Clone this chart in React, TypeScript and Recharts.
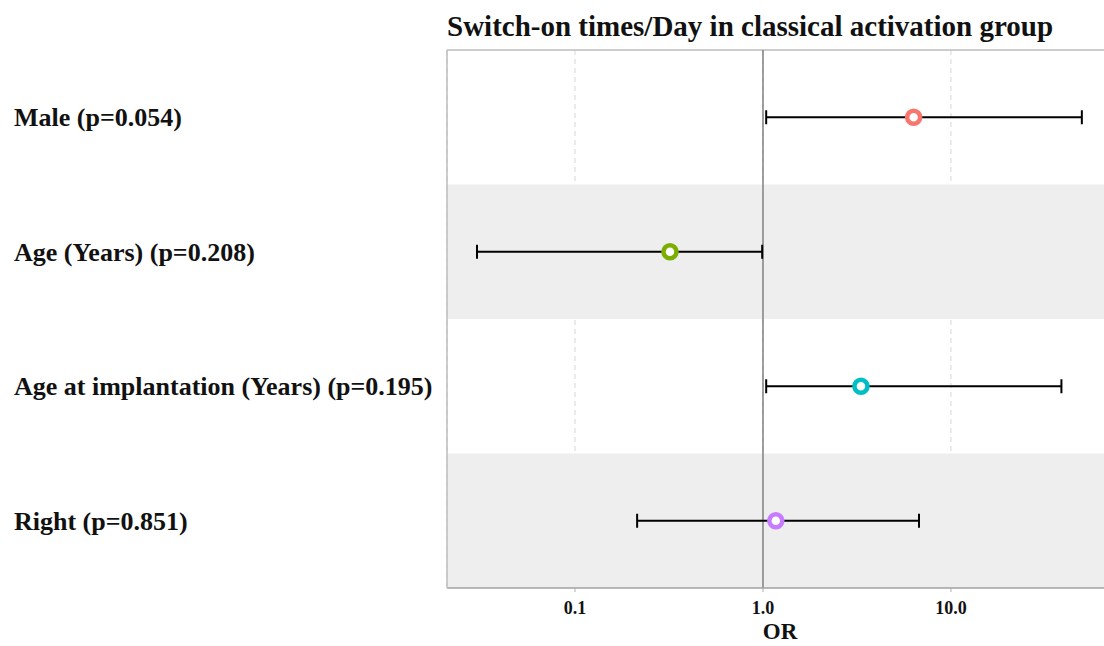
import React from "react";
import {
  ComposedChart,
  Scatter,
  XAxis,
  YAxis,
  ErrorBar,
  ReferenceArea,
  ReferenceLine,
  CartesianGrid,
} from "recharts";

const title = "Switch-on times/Day in classical activation group";
const labels = ["Male (p=0.054)", "Age (Years) (p=0.208)", "Age at implantation (Years) (p=0.195)", "Right (p=0.851)"];
const rows = [1, 2, 3, 4];
const orValues = [6.33, 0.32, 3.32, 1.17];
const lowerCI = [1.04, 0.0301, 1.04, 0.214];
const upperCI = [49.7, 0.99, 38.7, 6.76];
const colors = ["#F8766D", "#7CAE00", "#00BFC4", "#C77CFF"];
const xTicks = [0.1, 1, 10];
const xTickLabels = ["0.1", "1.0", "10.0"];

const FONT = "'Liberation Serif', 'Times New Roman', serif";

const data = rows.map((y, i) => ({
  y,
  or: orValues[i],
  err: [orValues[i] - lowerCI[i], upperCI[i] - orValues[i]],
  color: colors[i],
}));

const Ring = (props: any) => {
  const { cx, cy, payload } = props;
  return <circle cx={cx} cy={cy} r={6.5} fill="#ffffff" stroke={payload.color} strokeWidth={4.5} />;
};

const YTick = (props: any) => {
  const { y, payload } = props;
  const idx = rows.indexOf(payload.value);
  return (
    <text x={14} y={y} dy={9} textAnchor="start" fontFamily={FONT} fontWeight="bold" fontSize={26} fill="#111">
      {labels[idx]}
    </text>
  );
};

const XTick = (props: any) => {
  const { x, y, payload } = props;
  const idx = xTicks.indexOf(payload.value);
  return (
    <text x={x} y={y} dy={20} textAnchor="middle" fontFamily={FONT} fontWeight="bold" fontSize={18} fill="#111">
      {xTickLabels[idx]}
    </text>
  );
};

export default function App() {
  return (
    <div style={{ position: "absolute", left: 0, top: 0, width: 1104, height: 646, overflow: "hidden", background: "#fff" }}>
      <div
        style={{
          position: "absolute",
          left: 447,
          top: 12,
          lineHeight: "29px",
          fontFamily: FONT,
          fontWeight: "bold",
          fontSize: 29,
          color: "#111",
          whiteSpace: "nowrap",
        }}
      >
        {title}
      </div>
      <div
        style={{
          position: "absolute",
          left: 0,
          top: 619,
          width: 1560,
          lineHeight: "26px",
          textAlign: "center",
          fontFamily: FONT,
          fontWeight: "bold",
          fontSize: 23,
          color: "#111",
        }}
      >
        OR
      </div>
      <ComposedChart
        width={1113}
        height={646}
        data={data}
        margin={{ top: 50, right: 0, bottom: 0, left: 0 }}
        style={{ position: "absolute", left: 0, top: 0 }}
      >
        <ReferenceArea y1={1.5} y2={2.5} fill="#EEEEEE" fillOpacity={1} stroke="none" ifOverflow="visible" />
        <ReferenceArea y1={3.5} y2={4.5} fill="#EEEEEE" fillOpacity={1} stroke="none" ifOverflow="visible" />
        <CartesianGrid horizontal={false} vertical={true} stroke="#D6D6D6" strokeDasharray="5 4" />
        <XAxis
          type="number"
          dataKey="or"
          scale="log"
          domain={[0.02084, 72.8]}
          allowDataOverflow
          ticks={xTicks}
          tick={<XTick />}
          tickLine={{ stroke: "#B0B0B0" }}
          tickSize={4}
          axisLine={{ stroke: "#A0A0A0", strokeWidth: 1.5 }}
          height={58}
        />
        <YAxis
          type="number"
          dataKey="y"
          domain={[0.5, 4.5]}
          reversed
          ticks={rows}
          tick={<YTick />}
          tickLine={false}
          axisLine={{ stroke: "#BDBDBD", strokeWidth: 1.5 }}
          width={447}
        />
        <ReferenceLine y={0.5} stroke="#BDBDBD" strokeWidth={1.5} />
        <ReferenceLine x={1} stroke="#808080" strokeWidth={1.5} />
        <Scatter data={data} dataKey="or" shape={<Ring />} isAnimationActive={false}>
          <ErrorBar dataKey="err" direction="x" width={7} stroke="#000" strokeWidth={2} />
        </Scatter>
      </ComposedChart>
    </div>
  );
}
